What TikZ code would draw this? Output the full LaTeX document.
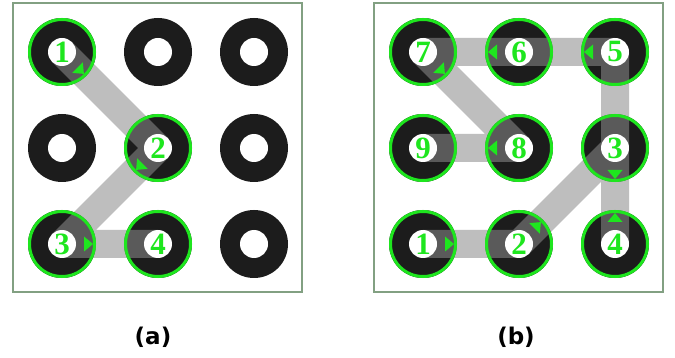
\documentclass[tikz,border=0pt]{standalone}
\usepackage{fontspec}
\newfontfamily\numfont{Liberation Serif}
\newfontfamily\capfont{DejaVu Sans}
\definecolor{pgreen}{RGB}{30,230,30}
\definecolor{disc}{RGB}{28,28,28}
\definecolor{bandc}{RGB}{140,140,140}
\definecolor{framec}{RGB}{130,160,130}
\begin{document}
\begin{tikzpicture}[x=1pt,y=-1pt,
  dot/.style={circle, fill=disc, minimum size=68pt, inner sep=0pt},
  hole/.style={circle, fill=white, minimum size=28pt, inner sep=0pt,
    text=pgreen, font=\numfont\bfseries\fontsize{31}{31}\selectfont},
  ring/.style={circle, draw=pgreen, line width=3pt, minimum size=65pt, inner sep=0pt},
  band/.style={draw=bandc, opacity=0.56, line width=28pt, line join=bevel},
  panel/.style={draw=framec, line width=1.1pt},
  caption/.style={font=\capfont\bfseries\fontsize{23}{23}\selectfont, text=black},
  tri/.pic={\fill[pgreen] (31pt,0pt) -- (22pt,7.5pt) -- (22pt,-7.5pt) -- cycle;}
]
\useasboundingbox (0,0) rectangle (675,358);
\fill[white] (0,0) rectangle (675,358);
% panels
\draw[panel] (13,3) rectangle (302,292);
\draw[panel] (374,3) rectangle (663,292);
% discs
\foreach \n/\x/\y in {a11/62/52,a12/158/52,a13/254/52,
                      a21/62/148,a22/158/148,a23/254/148,
                      a31/62/244,a32/158/244,a33/254/244,
                      b11/423/52,b12/519/52,b13/615/52,
                      b21/423/148,b22/519/148,b23/615/148,
                      b31/423/244,b32/519/244,b33/615/244}
  \node[dot] (\n) at (\x,\y) {};
% patterns
\draw[band] (a11.center) -- (a22.center) -- (a31.center) -- (a32.center);
\draw[band] (b31.center) -- (b32.center) -- (b23.center) -- (b33.center)
  -- (b13.center) -- (b12.center) -- (b11.center) -- (b22.center) -- (b21.center);
% holes with numbers
\foreach \n/\t in {a11/1,a12/,a13/,a21/,a22/2,a23/,a31/3,a32/4,a33/,
                   b31/1,b32/2,b23/3,b33/4,b13/5,b12/6,b11/7,b22/8,b21/9}
  \node[hole] (h\n) at (\n) {\t};
% rings
\foreach \n in {a11,a22,a31,a32,b11,b12,b13,b21,b22,b23,b31,b32,b33}
  \node[ring] (r\n) at (\n) {};
% direction arrows
\pic[rotate=-45] at (a11) {tri};
\pic[rotate=-135] at (a22) {tri};
\pic[rotate=0] at (a31) {tri};
\pic[rotate=0] at (b31) {tri};
\pic[rotate=45] at (b32) {tri};
\pic[rotate=-90] at (b23) {tri};
\pic[rotate=90] at (b33) {tri};
\pic[rotate=180] at (b13) {tri};
\pic[rotate=180] at (b12) {tri};
\pic[rotate=-45] at (b11) {tri};
\pic[rotate=180] at (b22) {tri};
% captions
\node[caption] (capa) at (153,337) {(a)};
\node[caption] (capb) at (516,337) {(b)};
\end{tikzpicture}
\end{document}
